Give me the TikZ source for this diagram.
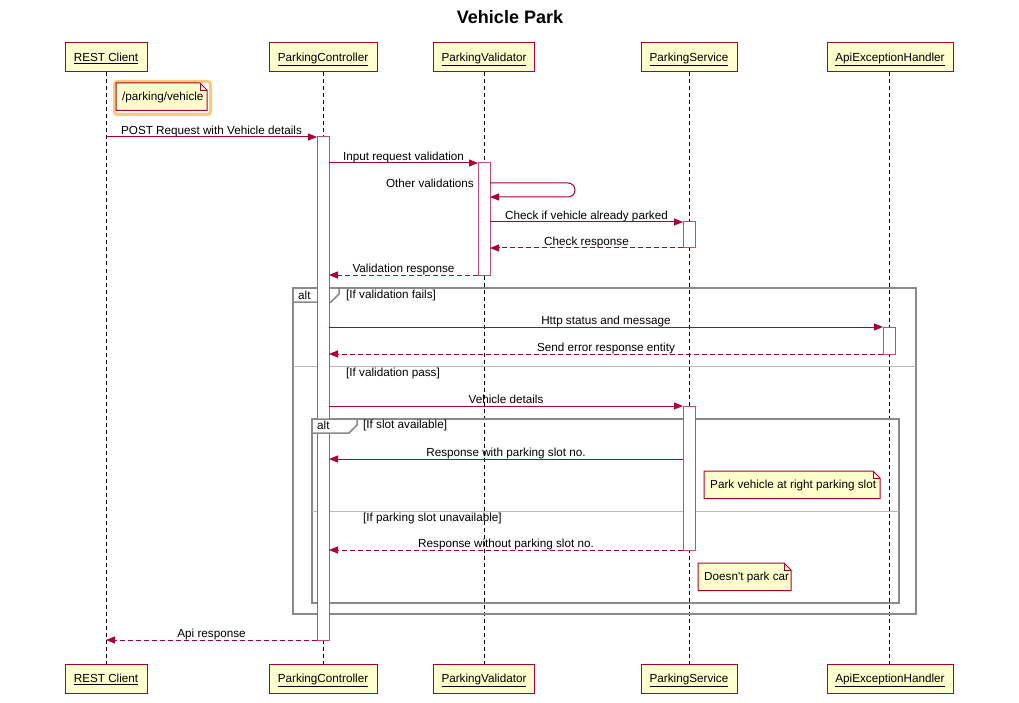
\documentclass[tikz,border=0pt]{standalone}
\usepackage{fontspec}
\setmainfont{Liberation Sans}
\usetikzlibrary{arrows.meta}
\definecolor{pred}{HTML}{A80036}
\definecolor{pfill}{HTML}{FEFECE}
\definecolor{nfill}{HTML}{FFFFCD}
\definecolor{frameg}{HTML}{8A8A8A}
\definecolor{hl}{HTML}{FFC878}
\newcommand\umlnote[5]{%
  \node[fill=nfill, inner sep=0pt, outer sep=0pt, minimum width=#4, minimum height=27.5pt, anchor=north west] (#1) at (#2,#3) {};
  \fill[white] ([xshift=-7pt]#1.north east) -- (#1.north east) -- ([yshift=-7pt]#1.north east) -- cycle;
  \draw[pred, line width=1pt] (#1.north west) -- ([xshift=-7pt]#1.north east) -- ([yshift=-7pt]#1.north east) -- (#1.south east) -- (#1.south west) -- cycle;
  \draw[pred, line width=0.8pt] ([xshift=-7pt]#1.north east) -- ([xshift=-7pt,yshift=-7pt]#1.north east) -- ([yshift=-7pt]#1.north east);
  \node[anchor=west, inner sep=0pt] (#1t) at ([xshift=6pt,yshift=-0.5pt]#1.west) {#5};
}
\begin{document}
\begin{tikzpicture}[x=1pt,y=-1pt, font=\fontsize{11.7}{14}\selectfont,
  part/.style={draw=pred, fill=pfill, line width=1pt, minimum height=29pt, inner sep=0pt},
  ptext/.style={inner sep=0pt},
  lifeline/.style={draw=black, line width=0.9pt, dash pattern=on 4pt off 3pt},
  actbar/.style={draw=pred!70!white, fill=white, line width=1pt, minimum width=12pt, inner sep=0pt, outer sep=0pt},
  msg/.style={draw=pred, line width=1pt, -{Triangle[length=9pt,width=7pt]}},
  ret/.style={msg, dash pattern=on 5pt off 3pt},
  lbl/.style={anchor=base, yshift=2.8pt, inner sep=0pt, text=black},
  frame/.style={draw=frameg, line width=1.5pt},
  divider/.style={draw=frameg!60, line width=1pt},
  guard/.style={anchor=west, inner sep=0pt}
]
\fill[white] (0,0) rectangle (1019,703);
\useasboundingbox (0,0) rectangle (1019,703);

\node[font=\bfseries\fontsize{18}{22}\selectfont] (title) at (510,17) {Vehicle Park};

% participants
\node[part, minimum width=82pt]  (rcT) at (106,57.5) {};
\node[part, minimum width=108pt] (pcT) at (323,57.5) {};
\node[part, minimum width=101pt] (pvT) at (484,57.5) {};
\node[part, minimum width=96pt]  (psT) at (689,57.5) {};
\node[part, minimum width=126pt] (ahT) at (890,57.5) {};
\node[part, minimum width=82pt]  (rcB) at (106,678.5) {};
\node[part, minimum width=108pt] (pcB) at (323,678.5) {};
\node[part, minimum width=101pt] (pvB) at (484,678.5) {};
\node[part, minimum width=96pt]  (psB) at (689,678.5) {};
\node[part, minimum width=126pt] (ahB) at (890,678.5) {};
\foreach \n/\t in {rcT/REST Client, pcT/ParkingController, pvT/ParkingValidator, psT/ParkingService, ahT/ApiExceptionHandler,
                   rcB/REST Client, pcB/ParkingController, pvB/ParkingValidator, psB/ParkingService, ahB/ApiExceptionHandler}
  \node[ptext, anchor=base] (\n txt) at ([yshift=-4.2pt]\n.center) {\underline{\t}};

% lifelines
\draw[lifeline] (rcT.south) -- (rcB.north);
\draw[lifeline] (pcT.south) -- (pcB.north);
\draw[lifeline] (pvT.south) -- (pvB.north);
\draw[lifeline] (psT.south) -- (psB.north);
\draw[lifeline] ([xshift=-1pt]ahT.south) -- ([xshift=-1pt]ahB.north);

% frames
\draw[frame] (293,288) rectangle (916,614);
\draw[frame] (293,302) -- (331,302) -- (339,294) -- (339,288);
\node[guard] (alt1) at (298,295.5) {alt};
\node[guard] (g1) at (346,295.5) {[If validation fails]};
\draw[divider] (293,366) -- (916,366);
\node[guard] (g2) at (346,373.5) {[If validation pass]};
\draw[frame] (312,419) rectangle (899,603);
\node[guard] (g3) at (363,425.5) {[If slot available]};
\draw[divider] (312,511) -- (899,511);
\node[guard] (g4) at (363,518.5) {[If parking slot unavailable]};

% activation bars
\node[actbar, minimum height=503pt] (aPC)  at (323,388.5) {};
\node[actbar, minimum height=112pt] (aPV)  at (484,219) {};
\node[actbar, minimum height=26pt]  (aPS1) at (689,235) {};
\node[actbar, minimum height=27pt]  (aAH)  at (889,340.5) {};
\node[actbar, minimum height=144pt] (aPS2) at (689,478) {};

% inner tab on top of the bar
\filldraw[frame, fill=white] (312,419) -- (357,419) -- (357,425) -- (349,433) -- (312,433) -- cycle;
\node[guard] (alt2) at (317,425.5) {alt};

% note with highlight
\draw[hl, line width=3pt, rounded corners=3pt] (114.5,81.5) rectangle (210.5,114.5);
\umlnote{n1}{116}{83}{91pt}{/parking/vehicle}

% messages
\coordinate (r183) at (0,183);
\coordinate (r197) at (0,197);
\coordinate (loopA) at (575,183);
\coordinate (loopB) at (575,197);
\coordinate (r459) at (0,459);

\draw[msg] (rcT.south |- aPC.north) -- node[lbl] (m1) {POST Request with Vehicle details} (aPC.north west);
\draw[msg] (aPC.east |- aPV.north) -- node[lbl] (m2) {Input request validation} (aPV.north west);
\draw[msg, rounded corners=7pt] (aPV.east |- r183) -- (loopA) -- (loopB) -- (aPV.east |- r197);
\node[anchor=east, inner sep=0pt] (m3) at (474,183.5) {Other validations};
\draw[msg] (aPV.east |- aPS1.north) -- node[lbl] (m4) {Check if vehicle already parked} (aPS1.north west);
\draw[ret] (aPS1.south west) -- node[lbl] (m5) {Check response} (aPV.east |- aPS1.south);
\draw[ret] (aPV.south west) -- node[lbl] (m6) {Validation response} (aPC.east |- aPV.south);
\draw[msg] (aPC.east |- aAH.north) -- node[lbl] (m7) {Http status and message} (aAH.north west);
\draw[ret] (aAH.south west) -- node[lbl] (m8) {Send error response entity} (aPC.east |- aAH.south);
\draw[msg] (aPC.east |- aPS2.north) -- node[lbl] (m9) {Vehicle details} (aPS2.north west);
\draw[msg] (aPS2.west |- r459) -- node[lbl] (m10) {Response with parking slot no.} (aPC.east |- r459);
\draw[ret] (aPS2.south west) -- node[lbl] (m11) {Response without parking slot no.} (aPC.east |- aPS2.south);
\draw[ret] (aPC.south west) -- node[lbl] (m12) {Api response} (rcB.north |- aPC.south);

% notes
\umlnote{n2}{704}{471}{176pt}{Park vehicle at right parking slot}
\umlnote{n3}{698}{563}{93pt}{Doesn\textquotesingle t park car}
\end{tikzpicture}
\end{document}
